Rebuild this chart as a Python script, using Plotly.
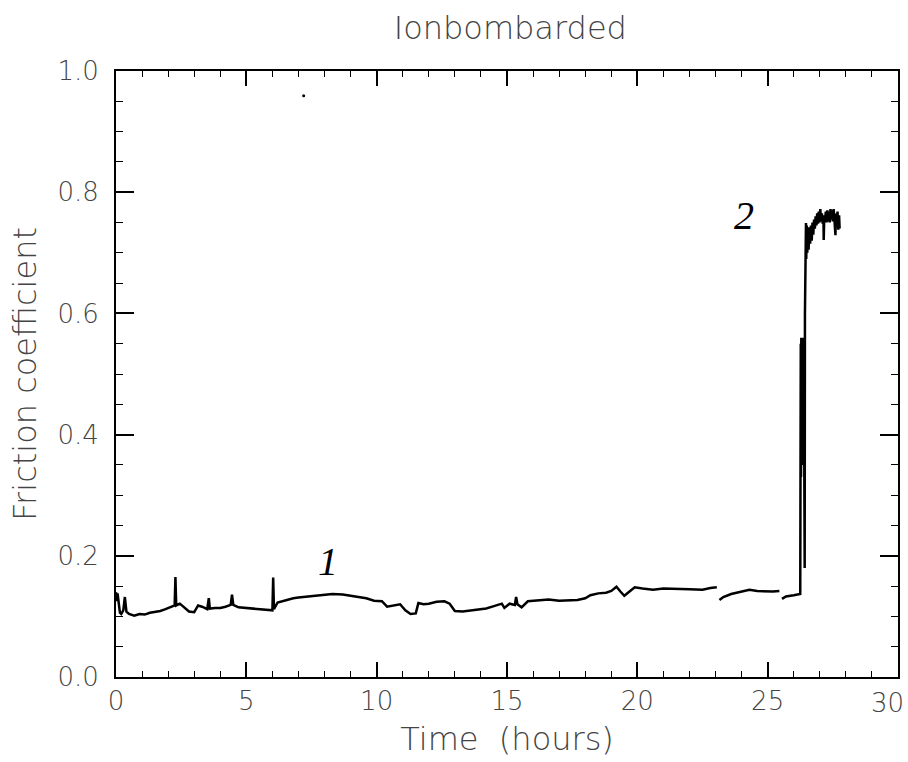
import plotly.graph_objects as go

# Friction coefficient vs. time (hours); None marks gaps in the trace
time_h = [
    0.0, 0.03, 0.06, 0.10, 0.15, 0.20, 0.28, 0.34, 0.40, 0.5, 0.7, 0.9, 1.1, 1.3, 1.5, 1.7, 1.9,
    2.1, 2.25, 2.28, 2.31, 2.45, 2.6, 2.8, 3.0, 3.15, 3.3, 3.5, 3.56, 3.6, 3.8, 4.0, 4.2, 4.4,
    4.45, 4.5, 4.7, 5.0, 5.3, 5.6, 5.9, 6.0, 6.03, 6.06, 6.2, 6.5, 6.8, 7.0, 7.4, 7.8, 8.3,
    8.7, 9.0, 9.3, 9.6, 9.9, 10.2, 10.4, 10.6, 10.9, 11.1, 11.3, 11.5, 11.6, 11.8, 12.0, 12.3,
    12.6, 12.8, 13.0, 13.3, 13.6, 13.9, 14.2, 14.5, 14.8, 14.9, 15.1, 15.3, 15.35, 15.4, 15.56,
    15.8, 16.2, 16.6, 17.0, 17.4, 17.7, 18.0, 18.2, 18.5, 18.8, 19.0, 19.2, 19.35, 19.5, 19.7,
    19.9, 20.2, 20.6, 21.0, 21.5, 22.0, 22.5, 22.8, 23.05, None,
    23.15, 23.3, 23.6, 24.0, 24.3, 24.6, 24.9, 25.2, 25.45, None,
    25.55, 25.7, 26.0, 26.25,
    26.27, 26.28, 26.29, 26.30, 26.31, 26.32, 26.33, 26.34, 26.35, 26.36, 26.37, 26.38, 26.39,
    26.40, 26.41, 26.42, 26.43, 26.44, 26.46,
    26.47, 26.48, 26.50, 26.52, 26.54, 26.57, 26.60, 26.63, 26.66, 26.69, 26.72, 26.75, 26.78,
    26.81, 26.84, 26.87, 26.90, 26.93, 26.96, 26.99, 27.02, 27.05, 27.08, 27.11, 27.14, 27.15,
    27.17, 27.20, 27.23, 27.26, 27.29, 27.32, 27.35, 27.38, 27.41, 27.44, 27.47, 27.50, 27.53,
    27.56, 27.60, 27.62, 27.65, 27.68, 27.71, 27.74, 27.76,
]
friction = [
    0.140, 0.125, 0.138, 0.118, 0.106, 0.104, 0.110, 0.132, 0.108, 0.104, 0.101, 0.104, 0.103,
    0.106, 0.107, 0.109, 0.112, 0.115, 0.118, 0.165, 0.118, 0.121, 0.116, 0.108, 0.107, 0.118,
    0.116, 0.112, 0.130, 0.113, 0.114, 0.114, 0.116, 0.119, 0.136, 0.119, 0.115, 0.114, 0.112,
    0.111, 0.110, 0.110, 0.164, 0.112, 0.123, 0.127, 0.130, 0.131, 0.133, 0.135, 0.137, 0.136,
    0.134, 0.133, 0.130, 0.126, 0.125, 0.116, 0.118, 0.120, 0.110, 0.104, 0.105, 0.122, 0.120,
    0.121, 0.124, 0.125, 0.121, 0.109, 0.108, 0.110, 0.111, 0.113, 0.117, 0.121, 0.114, 0.121,
    0.119, 0.132, 0.120, 0.115, 0.125, 0.127, 0.128, 0.126, 0.126, 0.127, 0.130, 0.135, 0.138,
    0.139, 0.142, 0.149, 0.141, 0.134, 0.141, 0.148, 0.146, 0.144, 0.146, 0.146, 0.145, 0.144,
    0.147, 0.148, None,
    0.127, 0.132, 0.137, 0.141, 0.144, 0.142, 0.141, 0.141, 0.142, None,
    0.129, 0.133, 0.135, 0.137,
    0.55, 0.33, 0.56, 0.42, 0.55, 0.35, 0.54, 0.45, 0.52, 0.41, 0.56, 0.43, 0.50,
    0.40, 0.47, 0.18, 0.60, 0.69, 0.74,
    0.749, 0.69, 0.745, 0.70, 0.74, 0.705, 0.742, 0.715, 0.745, 0.72, 0.75, 0.73, 0.755,
    0.74, 0.76, 0.745, 0.765, 0.748, 0.768, 0.75, 0.772, 0.752, 0.765, 0.748, 0.762, 0.721,
    0.758, 0.752, 0.768, 0.75, 0.77, 0.752, 0.768, 0.75, 0.772, 0.755, 0.77, 0.752, 0.772,
    0.755, 0.729, 0.765, 0.745, 0.768, 0.738, 0.762, 0.74,
]

# stray dot in the plot area
dot_t = [7.2]
dot_y = [0.959]

# curve labels
label_text = ["1", "2"]
label_t = [8.15, 24.1]
label_y = [0.19, 0.762]

x_ticks = [0, 5, 10, 15, 20, 25, 30]
x_tick_text = ["0", "5", "10", "15", "20", "25", "30"]
y_ticks = [0.0, 0.2, 0.4, 0.6, 0.8, 1.0]
y_tick_text = ["0.0", "0.2", "0.4", "0.6", "0.8", "1.0"]

FONT = "DejaVu Sans"
TXT = "#444444"

fig = go.Figure()
fig.add_trace(go.Scatter(
    x=time_h, y=friction, mode="lines",
    line=dict(color="black", width=2.5), connectgaps=False,
    showlegend=False, hoverinfo="x+y",
))
fig.add_trace(go.Scatter(
    x=dot_t, y=dot_y, mode="markers",
    marker=dict(color="black", size=3), showlegend=False,
))

for txt, tx, ty in zip(label_text, label_t, label_y):
    fig.add_annotation(
        x=tx, y=ty, xref="x", yref="y", text=txt, showarrow=False,
        font=dict(family="Liberation Serif", size=40, color="black", style="italic"),
    )

# the last x tick label sits just left of the right edge in the original,
# so it is drawn as an annotation anchored at its tick
shown_x_text = x_tick_text[:-1] + [""]
fig.add_annotation(
    x=x_ticks[-1], y=0, xref="x", yref="paper", text=x_tick_text[-1],
    showarrow=False, xanchor="right", yanchor="middle", xshift=8, yshift=-26,
    font=dict(family=FONT, size=26, color=TXT, weight=300),
)

axis_common = dict(
    showline=True, linecolor="black", linewidth=2, mirror="ticks",
    ticks="inside", tickcolor="black", tickwidth=1.5,
    showgrid=False, zeroline=False, automargin=False,
    tickfont=dict(family=FONT, size=26, color=TXT, weight=300),
)

fig.update_xaxes(
    range=[0, 30], tickvals=x_ticks, ticktext=shown_x_text, ticklen=15,
    minor=dict(ticks="inside", dtick=1, ticklen=6, tickcolor="black", tickwidth=1),
    title=dict(text="Time  (hours)", font=dict(family=FONT, size=32, color=TXT, weight=300),
               standoff=12),
    **axis_common,
)
fig.update_yaxes(
    range=[0, 1.0], tickvals=y_ticks, ticktext=y_tick_text, ticklen=18,
    minor=dict(ticks="inside", dtick=0.05, ticklen=7, tickcolor="black", tickwidth=1),
    ticklabelstandoff=10,
    title=dict(text="Friction coefficient", font=dict(family=FONT, size=32, color=TXT, weight=300),
               standoff=11),
    **axis_common,
)

fig.update_layout(
    template="none",
    width=908, height=760, autosize=False,
    margin=dict(l=116, r=10, t=71, b=83, autoexpand=False),
    paper_bgcolor="white", plot_bgcolor="white",
    title=dict(text="Ionbombarded", x=0.562, xanchor="center", y=0.963, yanchor="middle",
               yref="container",
               font=dict(family=FONT, size=32, color=TXT, weight=300)),
)

fig.write_html(
    "out.html",
    config={"displayModeBar": False},
    post_script="document.body.style.margin='0';document.body.style.overflow='hidden';",
)
